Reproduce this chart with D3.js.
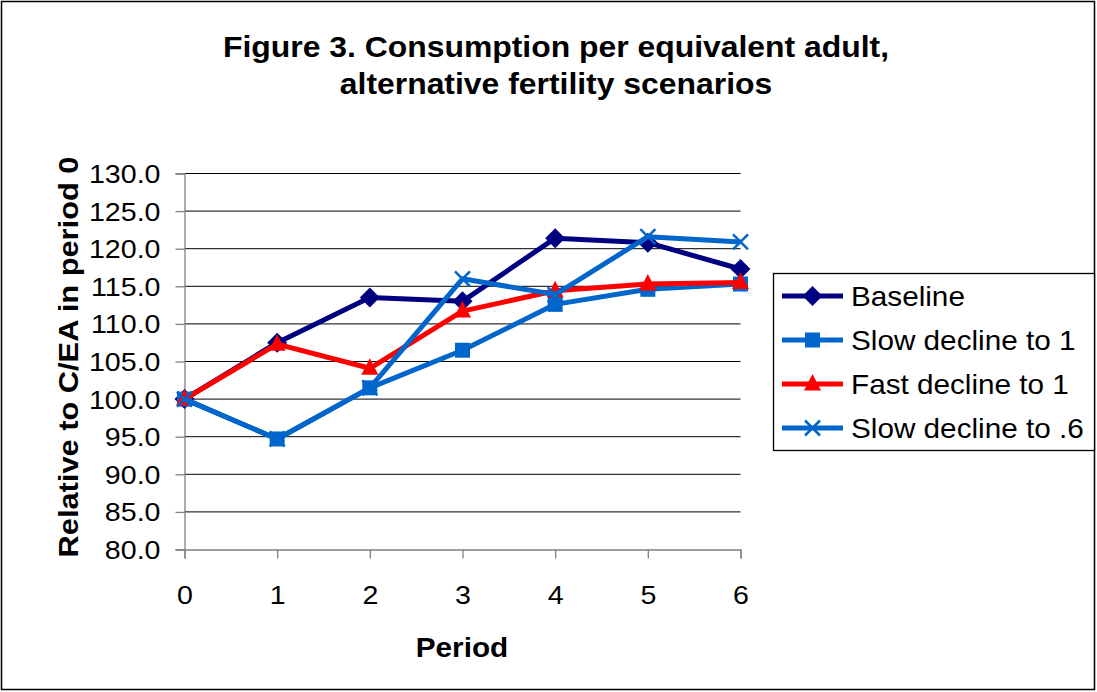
<!DOCTYPE html>
<html>
<head>
<meta charset="utf-8">
<script src="https://cdnjs.cloudflare.com/ajax/libs/d3/7.8.5/d3.min.js"></script>
<style>
body { margin: 0; background: #fff; }
svg { font-family: "Liberation Sans", Arial, sans-serif; }
</style>
</head>
<body>
<div id="chart"></div>
<script>
var periods = [0, 1, 2, 3, 4, 5, 6];
var yTicks = [80, 85, 90, 95, 100, 105, 110, 115, 120, 125, 130];
var seriesNames = ["Baseline", "Slow decline to 1", "Fast decline to 1", "Slow decline to .6"];
var baseline = [100.0, 107.5, 113.5, 113.0, 121.4, 120.8, 117.3];
var slowTo1 = [100.0, 94.7, 101.5, 106.5, 112.6, 114.6, 115.3];
var fastTo1 = [100.0, 107.3, 104.1, 111.7, 114.4, 115.3, 115.5];
var slowTo06 = [100.0, 94.7, 101.5, 116.0, 113.9, 121.6, 120.9];

var width = 1097, height = 692;
var stretch = 1.1; // the original text is a bit wider than Liberation Sans

var svg = d3.select("#chart").append("svg")
            .attr("width", width)
            .attr("height", height);

// outer frame
svg.append("rect")
   .attr("x", 1.5).attr("y", 1.5)
   .attr("width", width - 4).attr("height", height - 4)
   .attr("fill", "none").attr("stroke", "#000").attr("stroke-width", 1.5);

var x = d3.scaleLinear().domain([0, 6]).range([184.5, 740.5]);
var y = d3.scaleLinear().domain([80, 130]).range([549.5, 173.5]);

// places a horizontally stretched text at (tx, ty)
function label(parent, tx, ty, rot, size, bold, anchor, str) {
  var g = parent.append("g")
     .attr("transform", "translate(" + tx + "," + ty + ")" + (rot ? " rotate(" + rot + ")" : ""));
  return g.append("text")
     .attr("transform", "scale(" + stretch + ",1)")
     .attr("text-anchor", anchor)
     .attr("font-size", size)
     .attr("font-weight", bold ? "bold" : "normal")
     .attr("fill", "#000")
     .text(str);
}

// gridlines
svg.append("g")
   .selectAll("line")
   .data(yTicks.slice(1))
   .enter().append("line")
   .attr("x1", x(0)).attr("x2", x(6))
   .attr("y1", function(d){ return y(d); })
   .attr("y2", function(d){ return y(d); })
   .attr("stroke", "#000").attr("stroke-width", 1);

// y axis
var yAxis = svg.append("g")
   .attr("transform", "translate(" + x(0) + ",0)")
   .call(d3.axisLeft(y).tickValues(yTicks).tickSize(9).tickPadding(0)
         .tickFormat(d3.format(".1f")));
yAxis.selectAll("line, path").attr("stroke", "#808080").attr("stroke-width", 1.3);
yAxis.selectAll("text").remove();
yAxis.selectAll(".tick").each(function(d){
  label(d3.select(this), -24, 9, 0, 26, false, "end", d3.format(".1f")(d));
});

// x axis
var xAxis = svg.append("g")
   .attr("transform", "translate(0," + y(80) + ")")
   .call(d3.axisBottom(x).tickValues(periods).tickSize(9).tickPadding(0)
         .tickFormat(d3.format("d")));
xAxis.selectAll("line, path").attr("stroke", "#808080").attr("stroke-width", 1.3);
xAxis.selectAll("text").remove();
xAxis.selectAll(".tick").each(function(d){
  label(d3.select(this), 0, 54, 0, 26, false, "middle", d3.format("d")(d));
});

// titles
label(svg, 556, 57, 0, 29, true, "middle", "Figure 3. Consumption per equivalent adult,");
label(svg, 556, 94, 0, 29, true, "middle", "alternative fertility scenarios");
label(svg, 462, 657, 0, 27, true, "middle", "Period");
label(svg, 78, 357, -90, 28, true, "middle", "Relative to C/EA in period 0");

var series = [
  { name: seriesNames[0], values: baseline, color: "#000080", marker: "diamond" },
  { name: seriesNames[1], values: slowTo1, color: "#0066CC", marker: "square" },
  { name: seriesNames[2], values: fastTo1, color: "#FF0000", marker: "triangle" },
  { name: seriesNames[3], values: slowTo06, color: "#0066CC", marker: "cross" }
];

var line = d3.line()
   .x(function(d, i){ return x(periods[i]); })
   .y(function(d){ return y(d); });

function drawMarker(g, type, color, cx, cy) {
  if (type == "diamond") {
    g.append("path").attr("d", "M0,-10L10,0L0,10L-10,0Z")
     .attr("transform", "translate(" + cx + "," + cy + ")").attr("fill", color);
  } else if (type == "square") {
    g.append("rect").attr("x", cx - 7.5).attr("y", cy - 7.5)
     .attr("width", 15).attr("height", 15).attr("fill", color);
  } else if (type == "triangle") {
    g.append("path").attr("d", "M0,-10L8.5,6.5L-8.5,6.5Z")
     .attr("transform", "translate(" + cx + "," + cy + ")").attr("fill", color);
  } else {
    g.append("path").attr("d", "M-7.5,-7.5L7.5,7.5M-7.5,7.5L7.5,-7.5")
     .attr("transform", "translate(" + cx + "," + cy + ")")
     .attr("stroke", color).attr("stroke-width", 2.5).attr("fill", "none");
  }
}

series.forEach(function(s){
  var g = svg.append("g");
  g.append("path")
   .attr("d", line(s.values))
   .attr("fill", "none")
   .attr("stroke", s.color)
   .attr("stroke-width", 5)
   .attr("stroke-linejoin", "round");
  s.values.forEach(function(v, i){
    drawMarker(g, s.marker, s.color, x(periods[i]), y(v));
  });
});

// legend
var legend = svg.append("g");
legend.append("rect")
   .attr("x", 773.5).attr("y", 273.5)
   .attr("width", 321).attr("height", 177)
   .attr("fill", "#fff").attr("stroke", "#000").attr("stroke-width", 1.3);
series.forEach(function(s, i){
  var ly = 296 + i * 44;
  legend.append("line").attr("x1", 782).attr("x2", 843)
        .attr("y1", ly).attr("y2", ly)
        .attr("stroke", s.color).attr("stroke-width", 5);
  drawMarker(legend, s.marker, s.color, 812.5, ly);
  label(legend, 851, ly + 10, 0, 27, false, "start", s.name);
});
</script>
</body>
</html>
